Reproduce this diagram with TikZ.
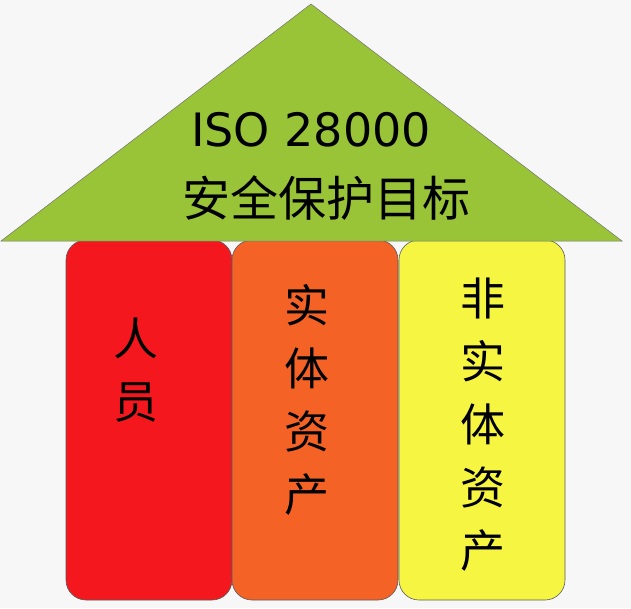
\documentclass[tikz,border=0pt]{standalone}
\usepackage{fontspec}
\setmainfont{DejaVu Sans}
\newfontfamily\cjk{Noto Sans CJK SC}
\usetikzlibrary{positioning}

\definecolor{roofgreen}{RGB}{153,196,56}
\definecolor{pillarred}{RGB}{244,24,30}
\definecolor{pillarorange}{RGB}{245,98,38}
\definecolor{pillaryellow}{RGB}{246,246,66}
\definecolor{bggray}{RGB}{247,247,248}

\begin{document}
\begin{tikzpicture}[x=1pt, y=-1pt,
            pillar/.style={draw=black!65, line width=0.6pt, rounded corners=20pt,
              minimum width=166pt, minimum height=360pt, inner sep=0pt},
            roof/.style={draw=black!55, line width=0.5pt, fill=roofgreen},
            word/.style={font=\cjk\fontsize{45}{63}\selectfont, align=center, inner sep=0pt}
            ]
        
        % sfondo
        \fill[bggray] (0,0) rectangle (631,608);
        \useasboundingbox (0,0) rectangle (631,608);
        
        % pilastri
        \node[pillar, fill=pillarred] (people) at (149,420) {};
        \node[pillar, fill=pillarorange] (physical) at (315,420) {};
        \node[pillar, fill=pillaryellow] (nonphysical) at (482,420) {};
        
        % tetto
        \draw[roof] (1,241) -- (311,4) -- (622,241) -- cycle;
        \node[font=\fontsize{46}{50}\selectfont, inner sep=0pt] (iso) at (311,130) {ISO 28000};
        \node[font=\cjk\fontsize{48}{50}\selectfont, inner sep=0pt] (goal) at (326,198) {安全保护目标};
        
        % etichette
        \node[word] (peopletext) at (136,370) {人\\员};
        \node[word] (physicaltext) at (307,400) {实\\体\\资\\产};
        \node[word] (nonphysicaltext) at (483,425) {非\\实\\体\\资\\产};
        \end{tikzpicture}
\end{document}
